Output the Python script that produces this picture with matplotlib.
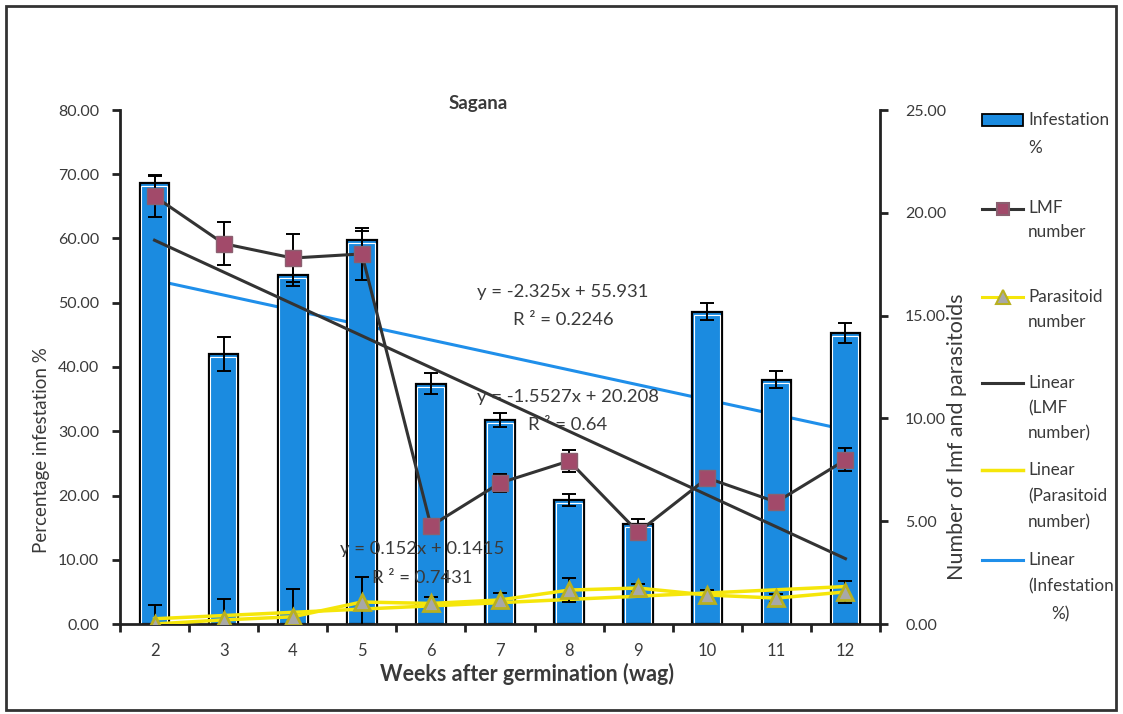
import numpy as np
import matplotlib
matplotlib.use("Agg")
import matplotlib.pyplot as plt
from matplotlib.lines import Line2D
from matplotlib.patches import Rectangle

plt.rcParams['font.family'] = ['Lato', 'DejaVu Sans']

weeks = [2, 3, 4, 5, 6, 7, 8, 9, 10, 11, 12]
infestation = [68.6, 42.0, 54.3, 59.8, 37.4, 31.8, 19.3, 15.6, 48.6, 38.0, 45.3]
infestation_err = [1.3, 2.6, 1.7, 1.4, 1.6, 1.1, 0.9, 0.8, 1.3, 1.3, 1.6]
lmf = [20.8, 18.5, 17.8, 18.0, 4.77, 6.86, 7.93, 4.47, 7.10, 5.93, 7.98]
lmf_err = [1.0, 1.05, 1.15, 1.25, 0.3, 0.45, 0.53, 0.2, 0.2, 0.2, 0.56]
parasitoid = [0.0, 0.2, 0.35, 1.07, 1.0, 1.17, 1.65, 1.75, 1.41, 1.26, 1.56]
parasitoid_err = [0.9, 1.0, 1.36, 1.2, 0.3, 0.35, 0.6, 0.2, 0.25, 0.2, 0.55]

eq_infest = ["y = -2.325x + 55.931", "R \u00b2 = 0.2246"]
eq_lmf = ["y = -1.5527x + 20.208", "R \u00b2 = 0.64"]
eq_par = ["y = 0.152x + 0.1415", "R \u00b2 = 0.7431"]

W, H = 1123, 714
fig = plt.figure(figsize=(W / 100, H / 100), dpi=100)

def fx(px):
    return px / W

def fy(py):
    return 1 - py / H

ax1 = fig.add_axes([fx(120), fy(624), fx(880) - fx(120), fy(110) - fy(624)])
ax2 = ax1.twinx()

x = np.array(weeks, dtype=float)
idx = np.arange(1, len(weeks) + 1)

BLUE = "#1B8BE0"
TXT = "#3a3a3a"

# trend lines
def trend(vals):
    c = np.polyfit(idx, vals, 1)
    return np.polyval(c, idx)

ax1.plot(x, trend(infestation), color="#1F8FEA", lw=2.2, zorder=1)

# bars
ax1.bar(x, infestation, width=0.43, color=BLUE, edgecolor="black", lw=1.6, zorder=2)
ax1.bar(x - 0.005, np.array(infestation) - 0.5, width=0.38, color="none",
        edgecolor="white", lw=0.8, zorder=2.1)
ax1.errorbar(x, infestation, yerr=infestation_err, fmt="none", ecolor="black",
             elinewidth=1.4, capsize=5, capthick=1.4, zorder=3)

ax1.set_xlim(1.5, 12.5)
ax1.set_ylim(0, 80)
ax2.set_ylim(0, 25)

# secondary series
ax2.plot(x, trend(lmf), color="#333333", lw=2.2, zorder=3)
ax2.plot(x, trend(parasitoid), color="#F5E60A", lw=2.5, zorder=3)
ax2.errorbar(x, lmf, yerr=lmf_err, fmt="none", ecolor="black", elinewidth=1.4,
             capsize=5, capthick=1.4, zorder=4)
ax2.plot(x, lmf, color="#333333", lw=2.2, marker="s", markersize=11,
         markerfacecolor="#A24A6A", markeredgecolor="#8A6070", markeredgewidth=1, zorder=5)
ax2.errorbar(x, parasitoid, yerr=parasitoid_err, fmt="none", ecolor="black",
             elinewidth=1.4, capsize=5, capthick=1.4, zorder=4)
ax2.plot(x, parasitoid, color="#F5E60A", lw=2.5, marker="^", markersize=12,
         markerfacecolor="#A8A8A8", markeredgecolor="#B8B020", markeredgewidth=2, zorder=5)

# axes styling
for a in (ax1, ax2):
    for s in a.spines.values():
        s.set_visible(False)
ax1.spines['left'].set_visible(True)
ax1.spines['bottom'].set_visible(True)
ax2.spines['right'].set_visible(True)
for s in (ax1.spines['left'], ax1.spines['bottom'], ax2.spines['right']):
    s.set_linewidth(2)
    s.set_color("#222222")

ax1.set_yticks(np.arange(0, 81, 10))
ax1.set_yticklabels([f"{v:.2f}" for v in np.arange(0, 81, 10)])
ax2.set_yticks(np.arange(0, 26, 5))
ax2.set_yticklabels([f"{v:.2f}" for v in np.arange(0, 26, 5)])
ax1.set_xticks(x)
ax1.set_xticklabels([str(w) for w in weeks])
ax1.set_xticks(np.arange(1.5, 12.6, 1), minor=True)
ax1.tick_params(axis='x', which='major', length=0, pad=14, labelsize=12, labelcolor=TXT)
ax1.tick_params(axis='x', which='minor', length=6, width=2, direction='out', color="#222222")
ax1.tick_params(axis='y', length=6, width=2, direction='out', pad=9, labelsize=11.5,
                labelcolor=TXT, color="#222222")
ax2.tick_params(axis='y', length=6, width=2, direction='out', pad=12, labelsize=11.5,
                labelcolor=TXT, color="#222222")

# titles
fig.text(fx(478), fy(103), "Sagana", ha="center", va="center", fontsize=13.5,
         fontweight="bold", color=TXT)
fig.text(fx(527), fy(674), "Weeks after germination (wag)", ha="center", va="center",
         fontsize=15.5, fontweight="bold", color=TXT)
fig.text(fx(42), fy(450), "Percentage infestation %", ha="center", va="center",
         fontsize=13.5, rotation=90, color=TXT)
fig.text(fx(957), fy(437), "Number of lmf and parasitoids", ha="center", va="center",
         fontsize=15.5, rotation=90, color=TXT)

# equations
eq_pos = [(eq_infest, 563, 292, 320), (eq_lmf, 568, 397, 425), (eq_par, 422, 549, 578)]
for lines, cx, y1, y2 in eq_pos:
    fig.text(fx(cx), fy(y1), lines[0], ha="center", va="center", fontsize=13.3, color=TXT)
    fig.text(fx(cx), fy(y2), lines[1], ha="center", va="center", fontsize=13.3, color=TXT)

# legend (manual)
hx0, hx1 = 982, 1023
tx = 1028
fs = 12.3
# Infestation
fig.patches.append(Rectangle((fx(hx0), fy(126)), fx(hx1) - fx(hx0), fy(114) - fy(126),
                             transform=fig.transFigure, facecolor=BLUE,
                             edgecolor="black", lw=1.3))
fig.text(fx(tx), fy(120), "Infestation", va="center", fontsize=fs, color=TXT)
fig.text(fx(tx), fy(148), "%", va="center", fontsize=fs, color=TXT)

def leg_line(py, color, marker=None, mfc=None, mec=None, ms=9, lw=2.2):
    fig.add_artist(Line2D([fx(hx0), fx(hx1)], [fy(py), fy(py)], transform=fig.transFigure,
                          color=color, lw=lw))
    if marker:
        fig.add_artist(Line2D([fx((hx0 + hx1) / 2)], [fy(py)], transform=fig.transFigure,
                              marker=marker, markersize=ms, markerfacecolor=mfc,
                              markeredgecolor=mec, markeredgewidth=1.5, lw=0))

leg_line(209, "#333333", "s", "#A24A6A", "#8A6070", 9)
fig.text(fx(tx), fy(208), "LMF", va="center", fontsize=fs, color=TXT)
fig.text(fx(tx), fy(232), "number", va="center", fontsize=fs, color=TXT)

leg_line(297, "#F5E60A", "^", "#A8A8A8", "#B8B020", 10)
fig.text(fx(tx), fy(297), "Parasitoid", va="center", fontsize=fs, color=TXT)
fig.text(fx(tx), fy(322), "number", va="center", fontsize=fs, color=TXT)

leg_line(383, "#333333")
for i, t in enumerate(["Linear", "(LMF", "number)"]):
    fig.text(fx(tx), fy(383 + 25 * i), t, va="center", fontsize=fs, color=TXT)

leg_line(470, "#F5E60A", lw=2.5)
for i, t in enumerate(["Linear", "(Parasitoid", "number)"]):
    fig.text(fx(tx), fy(470 + 26 * i), t, va="center", fontsize=fs, color=TXT)

leg_line(560, "#1F8FEA")
fig.text(fx(tx), fy(560), "Linear", va="center", fontsize=fs, color=TXT)
fig.text(fx(tx), fy(586), "(Infestation", va="center", fontsize=fs, color=TXT)
fig.text(fx(1060), fy(614), "%)", ha="center", va="center", fontsize=fs, color=TXT)

# outer frame
fig.patches.append(Rectangle((fx(6), fy(710)), fx(1116) - fx(6), fy(6) - fy(710),
                             transform=fig.transFigure, facecolor="none",
                             edgecolor="#333333", lw=2))

fig.savefig("out.png", dpi=100)
